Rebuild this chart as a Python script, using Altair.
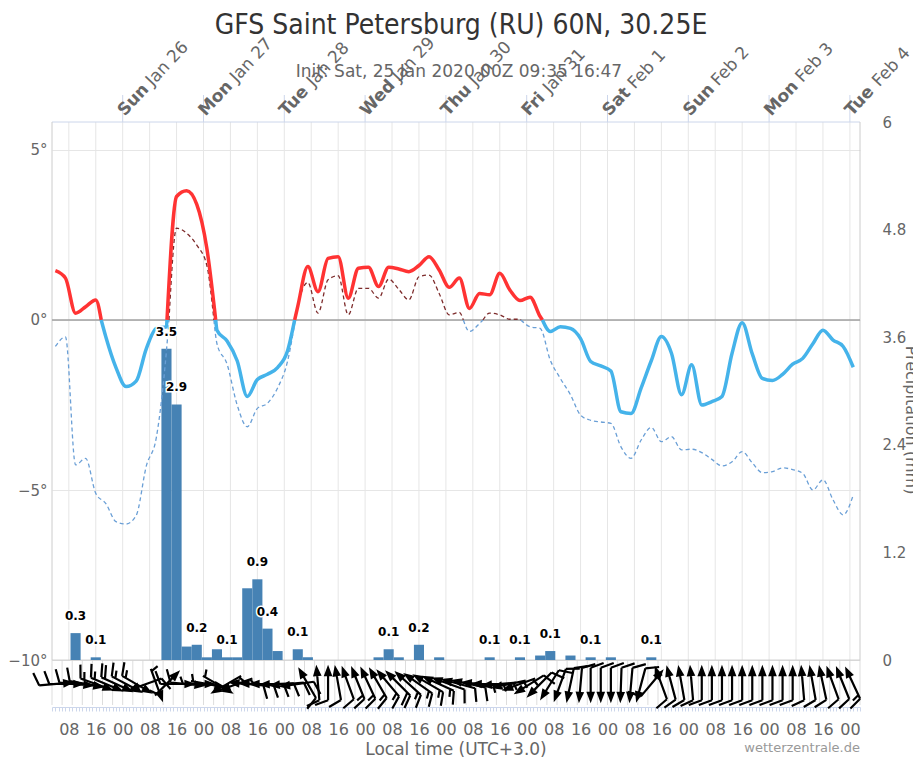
import altair as alt
import pandas as pd

# ---------------- data ----------------
# hours after Sat 25 Jan 2020 03:00 local (00Z run), forecast steps every 3 h
hours = [1 + 3 * i for i in range(80)]

temp = [1.45, 1.23, 0.2, 0.39, 0.59, -0.5, -1.4, -1.96, -1.8, -0.85,
        -0.25, -0.2, 3.63, 3.8, 3.4, 2.1, -0.3, -0.62, -1.2, -2.25,
        -1.75, -1.6, -1.4, -0.9, 0.4, 1.57, 0.83, 1.81, 1.86, 0.64,
        1.52, 1.55, 0.98, 1.55, 1.5, 1.42, 1.6, 1.86, 1.47, 0.96,
        1.23, 0.34, 0.78, 0.74, 1.37, 0.88, 0.57, 0.67, 0.1, -0.34,
        -0.2, -0.25, -0.55, -1.22, -1.35, -1.5, -2.7, -2.75, -2.0, -1.2,
        -0.49, -0.98, -2.2, -1.32, -2.5, -2.4, -2.25, -0.98, -0.08, -1.0,
        -1.72, -1.78, -1.6, -1.3, -1.13, -0.7, -0.3, -0.59, -0.78, -1.39]

dew = [-0.78, -0.5, -4.26, -4.07, -5.1, -5.4, -5.93, -6.0, -5.75, -4.3,
       -3.45, -0.9, 2.7, 2.55, 2.2, 1.6, -0.7, -1.3, -2.5, -3.14,
       -2.6, -2.45, -2.0, -1.2, 0.4, 1.1, 0.2, 1.18, 1.3, 0.15,
       0.93, 0.93, 0.64, 1.2, 0.9, 0.59, 1.27, 1.32, 0.78, 0.15,
       0.22, -0.34, -0.1, 0.2, 0.15, 0.02, 0.02, -0.2, -0.25, -1.18,
       -1.72, -2.2, -2.8, -2.95, -3.0, -3.04, -3.73, -4.07, -3.53, -3.16,
       -3.58, -3.43, -3.82, -3.8, -3.9, -4.1, -4.29, -4.17, -3.87, -4.2,
       -4.49, -4.46, -4.35, -4.4, -4.51, -5.0, -4.7, -5.29, -5.73, -5.15]

# wind: direction the arrow points to (deg, clockwise from north) and speed (kt)
wind_dir = [85, 90, 95, 100,
            110, 113, 115, 118, 120,
            250, 160, 45,
            90, 95, 90, 100,
            120, 240, 250,
            275, 272, 270, 268, 265, 262,
            330,
            355, 0, 350,
            340, 338, 335, 330,
            320, 315, 312,
            305, 300, 295, 290, 285, 282,
            275, 270, 265, 258, 250,
            238, 225, 212, 200,
            192, 185, 180, 180, 180, 182,
            185, 195,
            40,
            340, 345, 350,
            355, 0, 0, 0, 0, 0, 0, 0, 0, 0, 0, 355, 350, 348,
            340, 338, 335]
wind_kt = [8, 8, 10, 10,
           15, 17, 18, 17, 15,
           8, 7, 7,
           8, 8, 7, 7,
           6, 6, 7,
           9, 10, 10, 10, 9, 9,
           10,
           12, 12, 12,
           12, 13, 14, 15,
           17, 18, 17,
           16, 15, 14, 12, 10, 8,
           6, 6, 6, 6, 7,
           8, 9, 10, 10,
           11, 12, 12, 12, 12, 12,
           11, 10,
           8,
           10, 10, 11,
           12, 12, 12, 12, 12, 12, 12, 12, 12, 12, 12, 12, 12, 12,
           12, 12, 13]

precip_hours = [7, 13, 34, 37, 40, 43, 46, 49, 52, 55, 58, 61, 64, 67, 73, 76,
                97, 100, 103, 109, 115, 130, 139, 145, 148, 154, 160, 166, 178]
precip_mm = [0.3, 0.03, 3.47, 2.85, 0.15, 0.17, 0.03, 0.12, 0.03, 0.03, 0.8, 0.9, 0.35, 0.1, 0.12, 0.03,
             0.03, 0.12, 0.03, 0.17, 0.03, 0.03, 0.03, 0.05, 0.1, 0.05, 0.03, 0.03, 0.03]

label_hours = [7, 13, 34, 37, 43, 52, 61, 64, 73, 100, 109, 130, 139, 148, 160, 178]
label_text = ["0.3", "0.1", "3.5", "2.9", "0.2", "0.1", "0.9", "0.4", "0.1",
              "0.1", "0.2", "0.1", "0.1", "0.1", "0.1", "0.1"]

day_hours = [21, 45, 69, 93, 117, 141, 165, 189, 213, 237]
day_names = ["Sun", "Mon", "Tue", "Wed", "Thu", "Fri", "Sat", "Sun", "Mon", "Tue"]
day_dates = ["Jan 26", "Jan 27", "Jan 28", "Jan 29", "Jan 30", "Jan 31", "Feb 1", "Feb 2", "Feb 3", "Feb 4"]
# approximate pixel widths of the bold day names (plus a space) at 17px
name_w = {"Sun": 41, "Mon": 46, "Tue": 40, "Wed": 47, "Thu": 41, "Fri": 31, "Sat": 37}

TITLE = "GFS Saint Petersburg (RU) 60N, 30.25E"
SUBTITLE = "Init: Sat, 25 Jan 2020 00Z 09:35 16:47"

# ---------------- styling ----------------
FONT = "DejaVu Sans"
TFONT = "DejaVu Sans Condensed, Liberation Sans Narrow, DejaVu Sans"
RED, BLUE = "#ff3333", "#45b3ea"
DRED, DBLUE = "#7d2b2b", "#6a9fd6"
W, H, MAIN_H = 808, 585, 538

xs = alt.Scale(domain=[0, 240], nice=False, zero=False)
ts = alt.Scale(domain=[-11.38, 5.82], nice=False, zero=False)
ps = alt.Scale(domain=[-0.524, 6], nice=False, zero=False)


def split_sign(hs, vs, pos, neg):
    rows, seg, prev = [], 0, None
    for h, v in zip(hs, vs):
        s = pos if v >= 0 else neg
        if prev is not None and s != prev[2]:
            ph, pv, psg = prev
            hz = ph + (h - ph) * (0 - pv) / (v - pv)
            rows.append(dict(h=hz, v=0.0, seg=seg, sign=psg))
            seg += 1
            rows.append(dict(h=hz, v=0.0, seg=seg, sign=s))
        rows.append(dict(h=h, v=v, seg=seg, sign=s))
        prev = (h, v, s)
    return pd.DataFrame(rows)


def barb_path(kt):
    p = "M0,-1L-0.17,-0.55L0.17,-0.55Z M0,-0.6L0,1"
    n = int(round(kt / 5.0))
    full, half = n // 2, n % 2
    y = 1.0
    for _ in range(full):
        p += f" M0,{y:.2f}L-0.8,{y + 0.3:.2f}"
        y -= 0.25
    if half:
        if full == 0:
            y = 0.85
        p += f" M0,{y:.2f}L-0.45,{y + 0.16:.2f}"
    return p


temp_df = split_sign(hours, temp, "pos", "neg")
dew_df = split_sign(hours, dew, "dpos", "dneg")
bar_df = pd.DataFrame({"t": precip_hours, "p": precip_mm})
bar_df["x0"] = bar_df["t"] - 1.5
bar_df["x1"] = bar_df["t"] + 1.5
lab_df = pd.DataFrame({"t": label_hours, "txt": label_text})
lab_df = lab_df.merge(bar_df[["t", "p"]], on="t", how="left")
wind_df = pd.DataFrame({"h": hours, "dir": wind_dir, "kt": wind_kt})
wind_df["path"] = wind_df["kt"].map(barb_path)
one = pd.DataFrame({"a": [0]})

X = lambda f: alt.X(f, scale=xs, axis=None)

# ---------------- layers ----------------
vgrid = alt.Chart(pd.DataFrame({"h": [5 + 8 * i for i in range(30)]})).mark_rule(
    color="#e6e6e6", strokeWidth=1).encode(x=X("h:Q"), y=alt.value(0), y2=alt.value(MAIN_H))

wgrid = alt.Chart(pd.DataFrame({"h": list(range(0, 241, 3))})).mark_rule(
    color="#dddddd", strokeWidth=1).encode(x=X("h:Q"), y=alt.value(MAIN_H), y2=alt.value(H - 2))

dticks = alt.Chart(pd.DataFrame({"h": day_hours})).mark_rule(
    color="#ccd6eb", strokeWidth=1).encode(x=X("h:Q"), y=alt.value(-27), y2=alt.value(0))

top_line = alt.Chart(one).mark_rule(color="#ccd6eb").encode(
    x=alt.value(0), x2=alt.value(W), y=alt.value(0))
left_line = alt.Chart(one).mark_rule(color="#cccccc").encode(
    x=alt.value(0), y=alt.value(0), y2=alt.value(MAIN_H))
right_line = alt.Chart(one).mark_rule(color="#cccccc").encode(
    x=alt.value(W), y=alt.value(0), y2=alt.value(MAIN_H))

zero_line = alt.Chart(pd.DataFrame({"v": [0]})).mark_rule(color="#a0a0a0", strokeWidth=1.5).encode(
    y=alt.Y("v:Q", scale=ts, axis=None))
bottom_line = alt.Chart(pd.DataFrame({"v": [-10]})).mark_rule(color="#cccccc", strokeWidth=1).encode(
    y=alt.Y("v:Q", scale=ts, axis=None))

bars = alt.Chart(bar_df).mark_bar(color="#4682b4").encode(
    x=X("x0:Q"), x2="x1:Q",
    y=alt.Y("p:Q", scale=ps, axis=alt.Axis(
        orient="right", values=[0, 1.2, 2.4, 3.6, 4.8, 6],
        labelExpr="datum.value == 0 || datum.value == 6 ? format(datum.value, 'd') : format(datum.value, '.1f')",
        grid=False, domain=False, ticks=False, labelFontSize=15, labelColor="#666666",
        labelFont=FONT, labelPadding=22, labelAlign="left", title=None)),
    y2=alt.datum(0))

dew_lines = alt.Chart(dew_df).mark_line(interpolate="monotone", strokeWidth=1.3, strokeDash=[4, 3]).encode(
    x=X("h:Q"), y=alt.Y("v:Q", scale=ts, axis=None),
    color=alt.Color("sign:N", scale=alt.Scale(domain=["dpos", "dneg"], range=[DRED, DBLUE]), legend=None),
    detail="seg:N")

temp_lines = alt.Chart(temp_df).mark_line(interpolate="monotone", strokeWidth=3.5).encode(
    x=X("h:Q"),
    y=alt.Y("v:Q", scale=ts, axis=alt.Axis(
        orient="left", values=[-10, -5, 0, 5],
        labelExpr="format(datum.value, 'd') + '°'",
        grid=True, gridColor="#e6e6e6", domain=False, ticks=False,
        labelFontSize=15, labelColor="#666666", labelFont=FONT, labelPadding=5, title=None)),
    color=alt.Color("sign:N", scale=alt.Scale(domain=["pos", "neg"], range=[RED, BLUE]), legend=None),
    detail="seg:N")

# bottom time axis (local hours), carried by an invisible layer
xaxis_layer = alt.Chart(pd.DataFrame({"h": [0, 240]})).mark_point(opacity=0).encode(
    x=alt.X("h:Q", scale=xs, axis=alt.Axis(
        orient="bottom", values=list(range(0, 241)),
        labelExpr="((datum.value + 3) % 8 == 0) ? ((((datum.value + 3) % 24) < 10 ? '0' : '') + ((datum.value + 3) % 24)) : ''",
        grid=False, tickSize=4, tickColor="#ccd6eb", domainColor="#ccd6eb",
        labelFontSize=16, labelColor="#666666", labelFont=FONT, labelPadding=10,
        labelOverlap=False, labelFlush=False, labelBound=False, title=None)),
    y=alt.value(0))

lab_halo = alt.Chart(lab_df).mark_text(
    font=FONT, fontSize=12, fontWeight="bold", color="white", stroke="white", strokeWidth=3,
    baseline="alphabetic", dy=-13).encode(
    x=X("t:Q"), y=alt.Y("p:Q", scale=ps, axis=None), text="txt:N")
lab_text = alt.Chart(lab_df).mark_text(
    font=FONT, fontSize=12, fontWeight="bold", color="#000000",
    baseline="alphabetic", dy=-13).encode(
    x=X("t:Q"), y=alt.Y("p:Q", scale=ps, axis=None), text="txt:N")

barbs = alt.Chart(wind_df).mark_point(
    filled=True, fill="black", stroke="black", strokeWidth=2.2, opacity=1, size=1050).encode(
    x=X("h:Q"), y=alt.value(562),
    shape=alt.Shape("path:N", scale=None), angle=alt.Angle("dir:Q", scale=None))

day_layers = []
for h, nm, dt in zip(day_hours, day_names, day_dates):
    d = pd.DataFrame({"h": [h], "name": [nm], "date": [dt]})
    day_layers.append(alt.Chart(d).mark_text(
        angle=313, align="left", baseline="alphabetic", font=FONT, fontSize=17,
        fontWeight="bold", color="#666666", dx=3).encode(
        x=X("h:Q"), y=alt.value(-3), text="name:N"))
    day_layers.append(alt.Chart(d).mark_text(
        angle=313, align="left", baseline="alphabetic", font=FONT, fontSize=17,
        color="#666666", dx=3 + name_w[nm]).encode(
        x=X("h:Q"), y=alt.value(-3), text="date:N"))

title = alt.Chart(one).mark_text(
    text=TITLE, font=TFONT, fontSize=28, color="#333333", align="center",
    baseline="alphabetic").encode(x=alt.value(409), y=alt.value(-88))
subtitle = alt.Chart(one).mark_text(
    text=SUBTITLE, font=FONT, fontSize=17, color="#666666", align="center",
    baseline="alphabetic").encode(x=alt.value(407), y=alt.value(-45))
xtitle = alt.Chart(one).mark_text(
    text="Local time (UTC+3.0)", font=FONT, fontSize=17, color="#666666", align="center",
    baseline="alphabetic").encode(x=alt.value(404), y=alt.value(633))
credit = alt.Chart(one).mark_text(
    text="wetterzentrale.de", font=FONT, fontSize=13, color="#999999", align="right",
    baseline="alphabetic").encode(x=alt.value(W), y=alt.value(630))
ptitle = alt.Chart(one).mark_text(
    text="Precipitation (mm)", font=FONT, fontSize=16, color="#666666", align="center",
    baseline="alphabetic", angle=90).encode(x=alt.value(854), y=alt.value(298))

chart = alt.layer(
    vgrid, wgrid, dticks, top_line, left_line, right_line, zero_line, bottom_line,
    bars, dew_lines, temp_lines, xaxis_layer, lab_halo, lab_text, barbs,
    *day_layers, title, subtitle, xtitle, credit, ptitle
).resolve_scale(
    y="independent", color="independent"
).resolve_axis(
    x="independent"
).properties(
    width=W, height=H,
    autosize=alt.AutoSizeParams(type="none"),
    padding={"left": 44, "top": 114, "right": 53, "bottom": 52},
    background="white",
).configure_view(stroke=None)

chart.save("out.html", embed_options={"renderer": "svg", "actions": False})
